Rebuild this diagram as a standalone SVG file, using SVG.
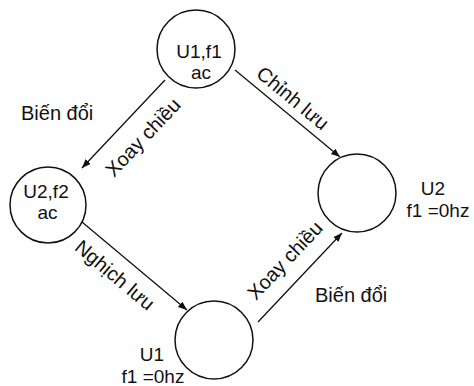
<svg xmlns="http://www.w3.org/2000/svg" width="474" height="386" viewBox="0 0 474 386">
<defs>
<marker id="arr" markerWidth="10" markerHeight="8" refX="9" refY="3.5" orient="auto" markerUnits="userSpaceOnUse">
<path d="M0,0 L9,3.5 L0,7 z" fill="#111"/>
</marker>
<style>
text{font-family:"Liberation Sans",Arial,sans-serif;font-size:20px;fill:#111;}
.c{text-anchor:middle;}
.n{font-size:19px;}
circle{fill:#fff;stroke:#111;stroke-width:1.5;}
.e{stroke:#111;stroke-width:1.3;fill:none;marker-end:url(#arr);}
</style>
</defs>
<rect width="474" height="386" fill="#fff"/>
<g id="connectors">
<line class="e" x1="165" y1="80" x2="82" y2="168"/>
<line class="e" x1="235" y1="70" x2="340" y2="157"/>
<line class="e" x1="82" y1="222" x2="187" y2="310"/>
<line class="e" x1="258" y1="322" x2="342" y2="233"/>
<text class="c" transform="translate(148,142) rotate(-46.7)">Xoay chiều</text>
<text class="c" transform="translate(288.5,103.4) rotate(39.6)">Chỉnh lưu</text>
<text class="c" transform="translate(110.5,280.4) rotate(40)">Nghịch lưu</text>
<text class="c" transform="translate(290,265) rotate(-46.7)">Xoay chiều</text>
<text x="21" y="120">Biến đổi</text>
<text x="315" y="302">Biến đổi</text>
</g>
<g id="n_top">
<circle cx="196" cy="49" r="39"/>
<text class="c n" x="199" y="58">U1,f1</text>
<text class="c n" x="201" y="79">ac</text>
</g>
<g id="n_left">
<circle cx="48" cy="205" r="38"/>
<text class="c n" x="46" y="198">U2,f2</text>
<text class="c n" x="47.5" y="219">ac</text>
</g>
<g id="n_bottom">
<circle cx="214" cy="340" r="39"/>
<text class="c n" x="152" y="361">U1</text>
<text class="c n" x="153" y="383">f1 =0hz</text>
</g>
<g id="n_right">
<circle cx="357" cy="193" r="39"/>
<text class="c n" x="433" y="195">U2</text>
<text class="c n" x="438" y="217">f1 =0hz</text>
</g>
</svg>
